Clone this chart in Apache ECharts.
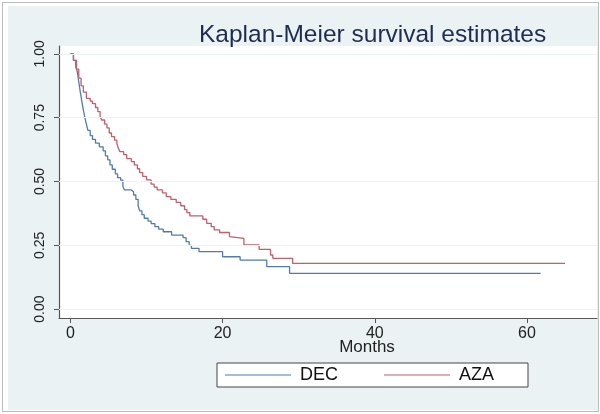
<!DOCTYPE html>
<html>
<head>
<meta charset="utf-8">
<script src="https://cdn.jsdelivr.net/npm/echarts@6/dist/echarts.min.js"></script>
<style>
html,body{margin:0;padding:0;background:#fff;}
#frame{position:absolute;left:2px;top:2px;width:595px;height:408px;border:1px solid #bcbcbc;background:#fff;}
#bg{position:absolute;left:8px;top:6px;width:590px;height:404px;background:#eaf2f3;}
#chart{position:absolute;left:0;top:0;width:600px;height:414px;}
</style>
</head>
<body>
<div id="frame"></div>
<div id="bg"></div>
<div id="chart"></div>
<script>
// Kaplan-Meier step data (months, survival probability)
const decMonths = [0,0.4,0.7,0.9,1.1,1.3,1.5,1.7,1.9,2.1,2.3,2.6,2.9,3.3,3.8,4.3,4.6,4.9,5.2,5.5,5.9,6.2,6.6,6.9,7.1,8.0,8.3,8.6,8.9,9.1,9.4,9.7,10.2,10.6,11.1,11.6,12.2,13.3,14.8,15.2,15.6,15.9,16.9,20.0,22.3,25.8,28.8,61.8];
const decSurvival = [1.0,0.975,0.95,0.93,0.89,0.85,0.815,0.78,0.75,0.725,0.70,0.68,0.665,0.65,0.636,0.62,0.60,0.585,0.565,0.548,0.53,0.515,0.505,0.48,0.467,0.46,0.447,0.43,0.405,0.385,0.37,0.356,0.345,0.335,0.323,0.313,0.303,0.29,0.28,0.264,0.25,0.238,0.225,0.205,0.192,0.166,0.14,0.14];
const azaMonths = [0,0.4,0.8,1.1,1.4,1.7,2.1,2.6,2.9,3.3,3.6,3.9,4.1,4.5,4.8,5.1,5.4,5.8,6.1,6.3,6.5,7.0,7.4,8.0,8.4,8.8,9.1,9.5,10.0,10.6,11.0,11.4,12.1,12.6,13.2,13.9,14.5,15.0,15.3,15.7,17.4,17.9,18.5,18.9,19.6,20.9,21.1,22.8,24.8,26.3,26.6,29.2,65.0];
const azaSurvival = [1.0,0.975,0.94,0.905,0.875,0.85,0.826,0.815,0.805,0.79,0.774,0.755,0.741,0.725,0.71,0.69,0.676,0.662,0.65,0.63,0.617,0.605,0.59,0.578,0.565,0.55,0.535,0.52,0.506,0.49,0.478,0.467,0.455,0.441,0.43,0.418,0.405,0.39,0.378,0.365,0.352,0.336,0.323,0.31,0.30,0.284,0.277,0.251,0.234,0.212,0.199,0.179,0.179];
const xTicks = [0,20,40,60];
const yTicks = [0,0.25,0.5,0.75,1];
const seriesNames = ['DEC','AZA'];

const pairs = (xs, ys) => xs.map((x,i)=>[x, ys[i]]);
const chart = echarts.init(document.getElementById('chart'), null, {renderer:'canvas'});
const font = '"Liberation Sans", Arial, sans-serif';
chart.setOption({
  animation:false,
  backgroundColor:'transparent',
  title:{
    text:'Kaplan-Meier survival estimates',
    left:194, top:18,
    textStyle:{fontFamily:font,fontSize:24.5,fontWeight:'normal',color:'#1e2c50'}
  },
  grid:{left:59,right:3,top:46,bottom:96,show:true,backgroundColor:'#fff',borderWidth:0},
  legend:{
    data:seriesNames,
    left:217, top:363,
    padding:[3,34,3,8],
    itemGap:46,
    itemWidth:66, itemHeight:1.2,
    icon:'rect',
    backgroundColor:'#fff',
    borderColor:'#444', borderWidth:1, borderRadius:0,
    textStyle:{fontFamily:font,fontSize:18,color:'#111',padding:[0,0,0,4]}
  },
  xAxis:{
    type:'value', min:-1.5, max:69.2,
    name:'Months', nameLocation:'middle', nameGap:21, nameMoveOverlap:false,
    nameTextStyle:{fontFamily:font,fontSize:17,color:'#222',padding:[0,0,0,78]},
    axisLine:{show:true,onZero:false,lineStyle:{color:'#555',width:1.2}},
    axisTick:{show:true,length:5,customValues:xTicks,lineStyle:{color:'#555'}},
    axisLabel:{customValues:xTicks,margin:8,fontFamily:font,fontSize:16,color:'#222'},
    splitLine:{show:false}
  },
  yAxis:{
    type:'value', min:-0.035, max:1.031,
    axisLine:{show:true,onZero:false,lineStyle:{color:'#555',width:1.2}},
    axisTick:{show:true,length:5,customValues:yTicks,lineStyle:{color:'#555'}},
    axisLabel:{customValues:yTicks,rotate:90,margin:12,fontFamily:font,fontSize:14,color:'#222',
      formatter:v=>v.toFixed(2)},
    splitLine:{show:false}
  },
  series:[
    {name:seriesNames[0],type:'line',step:'end',symbol:'none',data:pairs(decMonths,decSurvival),
     lineStyle:{color:'#4f7cac',width:1.3},itemStyle:{color:'#4f7cac'},z:3,
     markLine:{silent:true,symbol:'none',label:{show:false},
       lineStyle:{color:'#edf3f4',width:1,type:'solid'},
       data:yTicks.map(v=>({yAxis:v}))}},
    {name:seriesNames[1],type:'line',step:'end',symbol:'none',data:pairs(azaMonths,azaSurvival),
     lineStyle:{color:'#c0606a',width:1.3},itemStyle:{color:'#c0606a'},z:4}
  ]
});
</script>
</body>
</html>
